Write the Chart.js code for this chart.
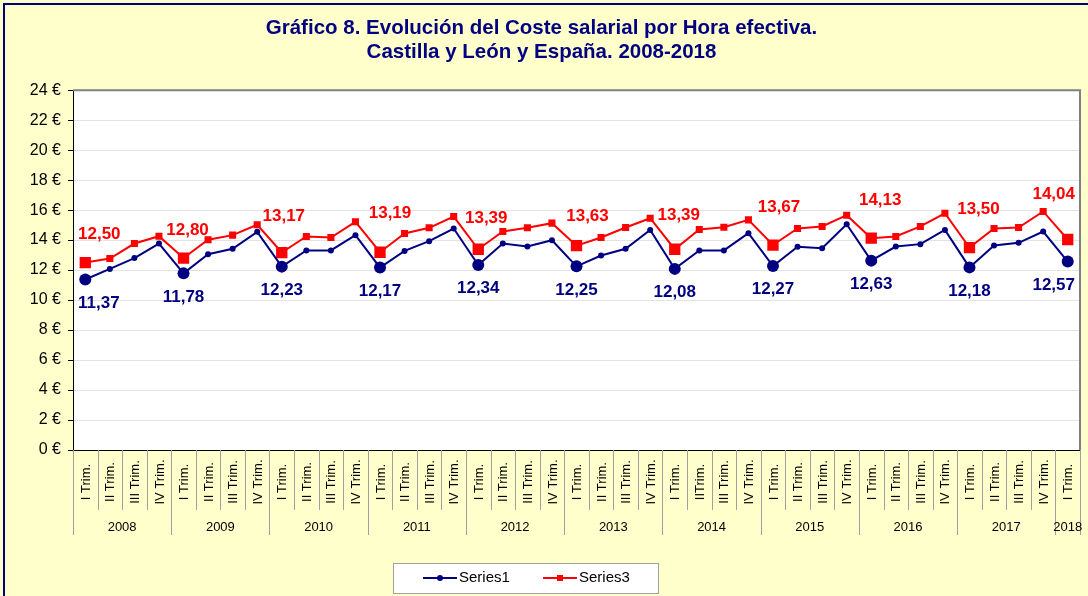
<!DOCTYPE html>
<html lang="es">

<head>
  <meta charset="UTF-8">
  <title>Coste salarial por Hora efectiva</title>
  <script src="https://cdn.jsdelivr.net/npm/chart.js"></script>
  <style>
    html, body { margin: 0; padding: 0; background: #FFFFCC; }
    #wrap { width: 1088px; height: 596px; }
  </style>
</head>

<body>
  <div id="wrap"><canvas id="costeChart" width="1088" height="596"></canvas></div>

  <script>
    // quarters 2008 I .. 2018 I
    const quarterLabels = [
      'I Trim.', 'II Trim.', 'III Trim.', 'IV Trim.',
      'I Trim.', 'II Trim.', 'III Trim.', 'IV Trim.',
      'I Trim.', 'II Trim.', 'III Trim.', 'IV Trim.',
      'I Trim.', 'II Trim.', 'III Trim.', 'IV Trim.',
      'I Trim.', 'II Trim.', 'III Trim.', 'IV Trim.',
      'I Trim.', 'II Trim.', 'III Trim.', 'IV Trim.',
      'I Trim.', 'IITrim.', 'III Trim.', 'IV Trim.',
      'I Trim.', 'II Trim.', 'III Trim.', 'IV Trim.',
      'I Trim.', 'II Trim.', 'III Trim.', 'IV Trim.',
      'I Trim.', 'II Trim.', 'III Trim.', 'IV Trim.',
      'I Trim.'
    ];
    const yearLabels = ['2008', '2009', '2010', '2011', '2012', '2013', '2014', '2015', '2016', '2017', '2018'];

    // Castilla y León
    const series1 = [
      11.37, 12.08, 12.80, 13.77,
      11.78, 13.06, 13.42, 14.55,
      12.23, 13.31, 13.31, 14.33,
      12.17, 13.28, 13.93, 14.77,
      12.34, 13.77, 13.57, 13.99,
      12.25, 12.97, 13.42, 14.68,
      12.08, 13.31, 13.31, 14.46,
      12.27, 13.55, 13.46, 15.06,
      12.63, 13.57, 13.73, 14.68,
      12.18, 13.64, 13.82, 14.57,
      12.57
    ];
    // España
    const series3 = [
      12.50, 12.77, 13.77, 14.26,
      12.80, 14.02, 14.33, 15.02,
      13.17, 14.24, 14.17, 15.22,
      13.19, 14.44, 14.82, 15.57,
      13.39, 14.57, 14.82, 15.13,
      13.63, 14.17, 14.84, 15.46,
      13.39, 14.71, 14.86, 15.35,
      13.67, 14.77, 14.91, 15.66,
      14.13, 14.24, 14.91, 15.79,
      13.50, 14.77, 14.84, 15.91,
      14.04
    ];
    const yTicks = [0, 2, 4, 6, 8, 10, 12, 14, 16, 18, 20, 22, 24];

    const NAVY = '#000080';
    const RED = '#FF0000';
    const FONT = "'Liberation Sans', Arial, sans-serif";

    // the red labels were nudged by hand in the original, one nudge per year
    const redLabelNudge = [
      [0, -28], [4, -28], [2, -36], [10, -39], [8, -31], [11, -29],
      [4, -34], [6, -38], [9, -38], [9, -38], [0, -45]
    ];

    const isFirst = ctx => ctx.dataIndex % 4 === 0;

    // background, plot frame, outer border
    const framePlugin = {
      id: 'frame',
      beforeDraw(chart) {
        const c = chart.ctx, a = chart.chartArea;
        c.save();
        c.fillStyle = '#FFFFCC';
        c.fillRect(0, 0, chart.width, chart.height);
        c.fillStyle = '#FFFFFF';
        c.fillRect(a.left, a.top, a.right - a.left, a.bottom - a.top);
        c.strokeStyle = NAVY;
        c.lineWidth = 2;
        c.beginPath();
        c.moveTo(4, chart.height);
        c.lineTo(4, 4);
        c.lineTo(chart.width, 4);
        c.stroke();
        c.restore();
      },
      afterDatasetsDraw(chart) {
        const c = chart.ctx, a = chart.chartArea;
        c.save();
        c.strokeStyle = '#808080';
        c.lineWidth = 2;
        c.beginPath();
        c.moveTo(a.left, a.top);
        c.lineTo(a.right, a.top);
        c.lineTo(a.right, a.bottom);
        c.stroke();
        c.restore();
      }
    };

    // two level category axis: quarters and years
    const groupAxisPlugin = {
      id: 'groupAxis',
      afterDraw(chart) {
        const c = chart.ctx, a = chart.chartArea;
        const x = chart.scales.x;
        const w = x.getPixelForValue(1) - x.getPixelForValue(0);
        c.save();
        c.strokeStyle = '#A0A0A0';
        c.lineWidth = 1;
        for (let i = 0; i <= quarterLabels.length; i++) {
          const px = Math.round(x.getPixelForValue(0) - w / 2 + i * w) + 0.5;
          const yEnd = (i % 4 === 0 || i === quarterLabels.length) ? 535 : 510;
          c.beginPath();
          c.moveTo(px, a.bottom);
          c.lineTo(px, yEnd);
          c.stroke();
        }
        c.fillStyle = '#000';
        c.font = '13px ' + FONT;
        c.textAlign = 'center';
        c.textBaseline = 'middle';
        quarterLabels.forEach((lab, i) => {
          c.save();
          c.translate(x.getPixelForValue(i) + 1, 482);
          c.rotate(-Math.PI / 2);
          c.fillText(lab, 0, 0);
          c.restore();
        });
        yearLabels.forEach((yr, k) => {
          const first = k * 4;
          const last = Math.min(first + 3, quarterLabels.length - 1);
          const cx = (x.getPixelForValue(first) + x.getPixelForValue(last)) / 2;
          c.fillText(yr, cx, 527);
        });
        c.restore();
      }
    };

    // value labels on the first quarter of each year
    const valueLabelPlugin = {
      id: 'valueLabels',
      afterDatasetsDraw(chart) {
        const c = chart.ctx, a = chart.chartArea;
        c.save();
        c.font = 'bold 17px ' + FONT;
        c.textAlign = 'center';
        c.textBaseline = 'middle';
        chart.data.datasets.forEach((ds, di) => {
          const meta = chart.getDatasetMeta(di);
          c.fillStyle = ds.borderColor;
          ds.data.forEach((v, i) => {
            if (i % 4 !== 0) return;
            const pt = meta.data[i];
            const txt = v.toFixed(2).replace('.', ',');
            const half = c.measureText(txt).width / 2;
            let px = pt.x, py;
            if (di === 0) {
              py = pt.y + 23.5;
            } else {
              const n = redLabelNudge[i / 4];
              px += n[0];
              py = pt.y + n[1];
            }
            px = Math.max(px, a.left + 5 + half);
            px = Math.min(px, a.right - 5 - half);
            c.fillText(txt, px, py);
          });
        });
        c.restore();
      }
    };

    // boxed legend with line + marker
    const legendBoxPlugin = {
      id: 'legendBox',
      afterDraw(chart) {
        const c = chart.ctx;
        c.save();
        c.fillStyle = '#FFFFFF';
        c.fillRect(393, 563, 265, 30);
        c.strokeStyle = '#A0A0A0';
        c.lineWidth = 1;
        c.strokeRect(393.5, 563.5, 265, 30);
        const items = [
          { ds: chart.data.datasets[0], x: 423 },
          { ds: chart.data.datasets[1], x: 543 }
        ];
        c.font = '15px ' + FONT;
        c.textBaseline = 'middle';
        items.forEach(it => {
          c.strokeStyle = it.ds.borderColor;
          c.lineWidth = 2;
          c.beginPath();
          c.moveTo(it.x, 578);
          c.lineTo(it.x + 34, 578);
          c.stroke();
          c.fillStyle = it.ds.borderColor;
          if (it.ds.pointStyle === 'rect') {
            c.fillRect(it.x + 14, 575, 6, 6);
          } else {
            c.beginPath();
            c.arc(it.x + 17, 578, 3, 0, Math.PI * 2);
            c.fill();
          }
          c.fillStyle = '#000';
          c.fillText(it.ds.label, it.x + 36, 578);
        });
        c.restore();
      }
    };

    const ctx = document.getElementById('costeChart').getContext('2d');
    const costeChart = new Chart(ctx, {
      type: 'line',
      data: {
        labels: quarterLabels,
        datasets: [{
          label: 'Series1',
          data: series1,
          borderColor: NAVY,
          backgroundColor: NAVY,
          borderWidth: 2,
          pointStyle: 'circle',
          pointRadius: c => isFirst(c) ? 6 : 3,
          pointBorderWidth: 0,
          tension: 0
        }, {
          label: 'Series3',
          data: series3,
          borderColor: RED,
          backgroundColor: RED,
          borderWidth: 2,
          pointStyle: 'rect',
          pointRadius: c => isFirst(c) ? 8 : 5,
          pointBorderWidth: 0,
          tension: 0
        }]
      },
      options: {
        responsive: false,
        animation: false,
        layout: {
          padding: { left: 0, right: 5, top: 0, bottom: 0 }
        },
        scales: {
          x: {
            type: 'category',
            offset: true,
            grid: { display: false },
            border: { display: true, color: '#000', width: 1 },
            ticks: { display: false },
            afterFit: scale => { scale.height = 146; }
          },
          y: {
            min: 0,
            max: 24,
            afterBuildTicks: scale => { scale.ticks = yTicks.map(v => ({ value: v })); },
            grid: {
              color: '#E3E3E3',
              tickColor: '#000',
              tickLength: 5
            },
            border: { display: true, color: '#000', width: 1 },
            ticks: {
              color: '#000',
              padding: 7,
              font: { family: FONT, size: 16 },
              callback: value => value + ' €'
            },
            afterFit: scale => { scale.width = 73; }
          }
        },
        plugins: {
          legend: { display: false },
          tooltip: { enabled: false },
          title: {
            display: true,
            text: ['Gráfico 8. Evolución del Coste salarial por Hora efectiva.', 'Castilla y León y España. 2008-2018'],
            color: NAVY,
            font: { family: FONT, size: 20.5, weight: 'bold', lineHeight: 1.15 },
            padding: { top: 17, bottom: 26 }
          }
        }
      },
      plugins: [framePlugin, groupAxisPlugin, valueLabelPlugin, legendBoxPlugin]
    });
  </script>

</body>

</html>
